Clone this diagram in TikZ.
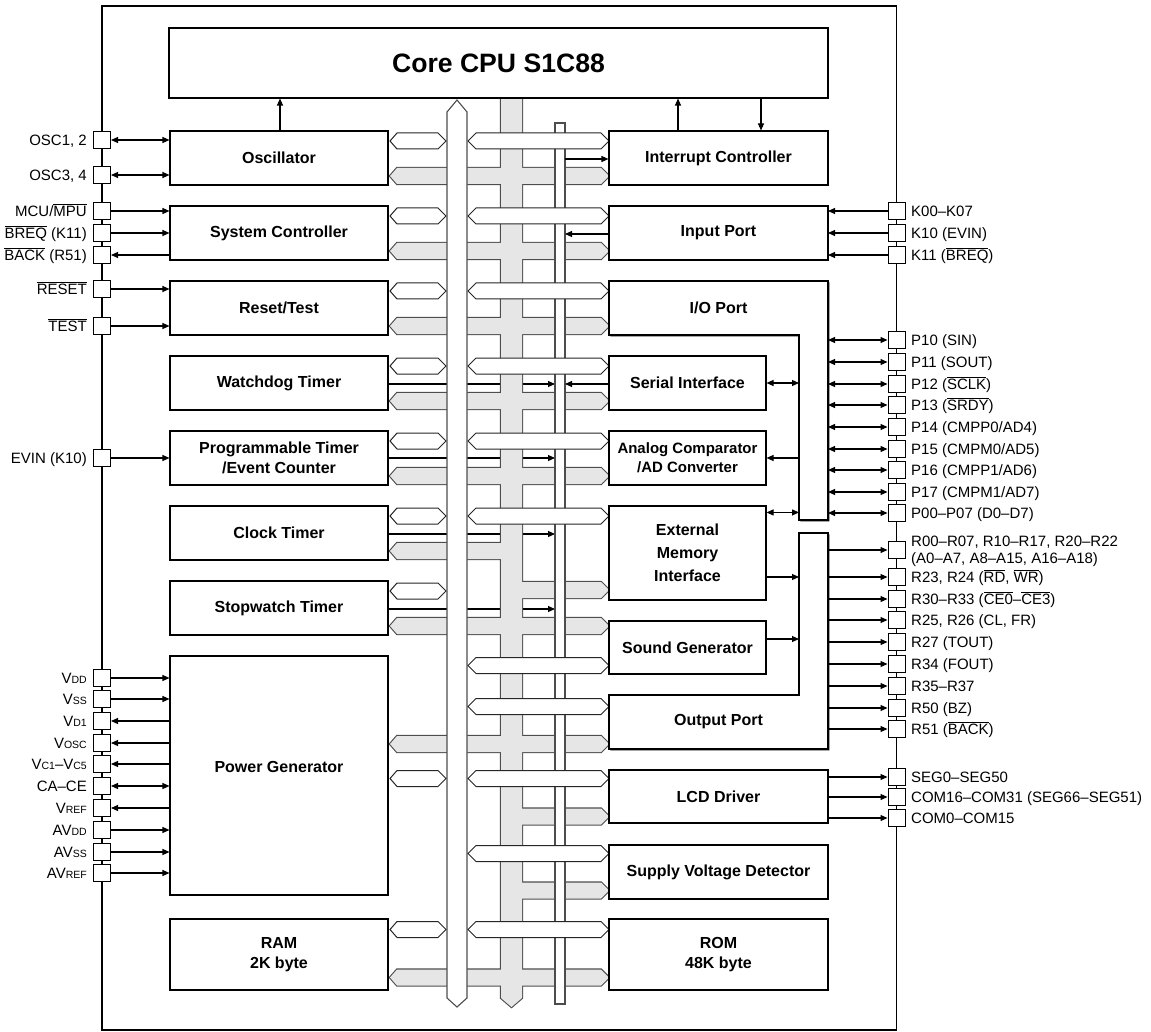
\documentclass[tikz,border=0pt]{standalone}
\usepackage{fontspec}
\setmainfont{Liberation Sans}
\usetikzlibrary{arrows.meta,shadows}
\pgfdeclarelayer{ctl}
\pgfdeclarelayer{gry}
\pgfdeclarelayer{bus}
\pgfsetlayers{ctl,gry,bus,main}
\definecolor{busgray}{HTML}{E6E6E6}
\definecolor{busline}{HTML}{4D4D4D}
\newcommand\ovl[1]{$\overline{\hbox{#1}}$}
\newcommand\sm[1]{{\fontsize{10.5pt}{12pt}\selectfont #1}}
\newcommand\GrayShapes[1]{%
 \path[#1] (501,98) -- (522,98) -- (522,998) -- (511.5,1007) -- (501,998) -- cycle;
 \foreach \yy in {176,251,326,401,476,626,744,977.5}{\path[#1] (390,\yy) -- (397,\yy-8) -- (601,\yy-8) -- (609,\yy) -- (601,\yy+8) -- (397,\yy+8) -- cycle;}
 \foreach \yy in {551}{\path[#1] (390,\yy) -- (397,\yy-8) -- (511,\yy-8) -- (511,\yy+8) -- (397,\yy+8) -- cycle;}
 \foreach \yy in {590,816.5,890.5}{\path[#1] (511,\yy-8) -- (601,\yy-8) -- (609,\yy) -- (601,\yy+8) -- (511,\yy+8) -- cycle;}
}
\newcommand\WHexL[1]{\draw[hexw] (390,#1) -- (397,#1-8) -- (438,#1-8) -- (446,#1) -- (438,#1+8) -- (397,#1+8) -- cycle;}
\newcommand\WHexR[1]{\draw[hexw] (468,#1) -- (476,#1-8) -- (601,#1-8) -- (609,#1) -- (601,#1+8) -- (476,#1+8) -- cycle;}
\begin{document}
\begin{tikzpicture}[x=1pt,y=-1pt,
  >={Triangle[length=7pt,width=6pt]},
  mod/.style={draw=black, line width=1.1pt, fill=white,
     drop shadow={shadow xshift=1.4pt, shadow yshift=-1.4pt, opacity=1, fill=black}},
  modbox/.style={mod, rectangle, inner sep=0pt, align=center,
     font=\fontsize{16pt}{20pt}\selectfont\bfseries},
  lmod/.style={modbox, minimum width=218pt, minimum height=54pt},
  rmod/.style={modbox, minimum width=219pt, minimum height=54pt},
  nmod/.style={modbox, minimum width=157pt, minimum height=54pt},
  modtxt/.style={inner sep=0pt, align=center, font=\fontsize{16pt}{20pt}\selectfont\bfseries},
  pinbox/.style={draw=black, fill=white, line width=1pt, minimum width=17pt, minimum height=17pt, inner sep=0pt},
  lpl/.style={anchor=base east, yshift=-5.3pt, inner sep=0pt, font=\fontsize{15pt}{18pt}\selectfont},
  rpl/.style={anchor=base west, yshift=-5.3pt, inner sep=0pt, font=\fontsize{15pt}{18pt}\selectfont},
  con/.style={line width=1.1pt},
  fwd/.style={con,->}, bwd/.style={con,<-}, bi/.style={con,<->},
  busw/.style={draw=busline, fill=white, line width=1.1pt, line join=miter},
  hexw/.style={draw=black!85, fill=white, line width=1pt, line join=miter}]
\useasboundingbox (0,0) rectangle (1151,1032);
% chip outline
\draw[line width=1.6pt] (102,6) rectangle (896.5,1030);
% bus edge coordinates
\coordinate (tbL) at (555,0);
\coordinate (tbR) at (565,0);
\coordinate (ioIn) at (799,0);
\coordinate (rE) at (828,0);
% CPU
\node[modbox, minimum width=659pt, minimum height=70pt, font=\fontsize{26.6pt}{32pt}\selectfont\bfseries] (cpu) at (498.5,63) {Core CPU S1C88};
% left modules
\node[lmod] (osc) at (279,158) {Oscillator};
\node[lmod] (sysc) at (279,233) {System Controller};
\node[lmod] (rst) at (279,308) {Reset/Test};
\node[lmod] (wdt) at (279,383) {Watchdog Timer};
\node[lmod] (ptm) at (279,458) {Programmable Timer\\/Event Counter};
\node[lmod] (clk) at (279,533) {Clock Timer};
\node[lmod] (stw) at (279,608) {Stopwatch Timer};
\node[lmod, minimum height=239pt] (pwr) at (279,775.5) {};
\node[modtxt] (pwrl) at (279,767) {Power Generator};
\node[lmod, minimum height=71pt] (ram) at (279,954.5) {RAM\\2K byte};
% right modules
\node[rmod] (intc) at (718.5,158) {Interrupt Controller};
\node[rmod] (inp) at (718.5,233) {Input Port};
\path[mod] (609,281) -- (828,281) -- (828,520) -- (799,520) -- (799,335) -- (609,335) -- cycle;
\node[modtxt] (iop) at (718.5,308) {I/O Port};
\node[nmod] (ser) at (687.5,383) {Serial Interface};
\node[nmod, font=\fontsize{15pt}{19pt}\selectfont\bfseries] (adc) at (687.5,458) {Analog Comparator\\/AD Converter};
\node[nmod, minimum height=94pt, font=\fontsize{16pt}{23pt}\selectfont\bfseries] (ext) at (687.5,553) {External\\Memory\\Interface};
\node[nmod, minimum height=53pt] (snd) at (687.5,647.5) {Sound Generator};
\path[mod] (799,533) -- (828,533) -- (828,749) -- (609,749) -- (609,695) -- (799,695) -- cycle;
\node[modtxt] (outp) at (718.5,722) {Output Port};
\node[rmod, minimum height=53pt] (lcd) at (718.5,796.5) {LCD Driver};
\node[rmod] (svd) at (718.5,872) {Supply Voltage Detector};
\node[rmod, minimum height=71pt] (rom) at (718.5,954.5) {ROM\\48K byte};
% control lines into the thin bus (behind buses)
\begin{pgfonlayer}{ctl}
\draw[fwd] ([yshift=-1pt]wdt.east) -- ([yshift=-1pt]wdt.east -| tbL);
\draw[fwd] (ptm.east) -- (ptm.east -| tbL);
\draw[fwd] ([yshift=-1pt]clk.east) -- ([yshift=-1pt]clk.east -| tbL);
\draw[fwd] ([yshift=-1pt]stw.east) -- ([yshift=-1pt]stw.east -| tbL);
\end{pgfonlayer}
% gray data bus
\begin{pgfonlayer}{gry}
\GrayShapes{draw=busline, line width=2.2pt, line join=miter}
\GrayShapes{fill=busgray}
\end{pgfonlayer}
% thin bus, white bus, white hexes
\begin{pgfonlayer}{bus}
\draw[busw] (555,123) rectangle (565,1004);
\draw[busw] (447,112) -- (457,100) -- (467,112) -- (467,998) -- (457,1007) -- (447,998) -- cycle;
\foreach \yy in {141,216,291,366,441,516,591,778.5,929.5}{\WHexL{\yy}}
\foreach \yy in {141,216,291,366,441,516,665.5,706.5,778.5,853.5,929.5}{\WHexR{\yy}}
\end{pgfonlayer}
% right control lines
\draw[fwd] ([yshift=-1pt]intc.west -| tbR) -- ([yshift=-1pt]intc.west);
\draw[fwd] ([yshift=-1pt]inp.west) -- ([yshift=-1pt]inp.west -| tbR);
\draw[fwd] ([yshift=-1pt]ser.west) -- ([yshift=-1pt]ser.west -| tbR);
% CPU arrows
\draw[fwd] ([xshift=1pt]osc.north) -- ([xshift=1pt]osc.north |- cpu.south);
\draw[fwd] ([xshift=-40.5pt]intc.north) -- ([xshift=-40.5pt]intc.north |- cpu.south);
\draw[fwd] ([xshift=42.5pt]intc.north |- cpu.south) -- ([xshift=42.5pt]intc.north);
% internal arrows
\draw[bi] (ser.east) -- (ser.east -| ioIn);
\draw[bwd] (adc.east) -- (adc.east -| ioIn);
\draw[bi] ([yshift=-7pt]ext.north east) -- ([yshift=-7pt]ext.north east -| ioIn);
\draw[fwd] ([yshift=-24pt]ext.east) -- ([yshift=-24pt]ext.east -| ioIn);
\draw[fwd] ([yshift=8.5pt]snd.east) -- ([yshift=8.5pt]snd.east -| ioIn);
% left pins
\foreach \yy/\nm/\txt/\dir/\tgt in {
  140/oa/{OSC1, 2}/bi/osc, 175/ob/{OSC3, 4}/bi/osc,
  211/mcu/{MCU/\ovl{MPU}}/fwd/sysc, 233/breq/{\ovl{BREQ} (K11)}/fwd/sysc, 255/back/{\ovl{BACK} (R51)}/bwd/sysc,
  289/reset/{\ovl{RESET}}/fwd/rst, 326/test/{\ovl{TEST}}/fwd/rst,
  458/evin/{EVIN (K10)}/fwd/ptm,
  678/vdd/{V\sm{DD}}/fwd/pwr, 699/vss/{V\sm{SS}}/fwd/pwr, 721/vdi/{V\sm{D1}}/bwd/pwr,
  743/vosc/{V\sm{OSC}}/bwd/pwr, 764/vc/{V\sm{C1}–V\sm{C5}}/bwd/pwr, 786/ca/{CA–CE}/bi/pwr,
  808/vref/{V\sm{REF}}/bwd/pwr, 830/avdd/{AV\sm{DD}}/fwd/pwr, 852/avss/{AV\sm{SS}}/fwd/pwr,
  873/avref/{AV\sm{REF}}/fwd/pwr}{
  \node[pinbox] (p\nm) at (102,\yy) {};
  \node[lpl] (l\nm) at (87,\yy) {\txt};
  \draw[\dir] (p\nm.east) -- (p\nm.east -| \tgt.west);
}
% right pins
\foreach \yy/\nm/\txt/\dir in {
  211/k0/{K00–K07}/bwd, 233/k10/{K10 (EVIN)}/bwd, 255/k11/{K11 (\ovl{BREQ})}/bwd,
  340/p10/{P10 (SIN)}/bi, 362/p11/{P11 (SOUT)}/bi, 384/p12/{P12 (\ovl{SCLK})}/bi,
  405/p13/{P13 (\ovl{SRDY})}/bi, 427/p14/{P14 (CMPP0/AD4)}/bi, 449/p15/{P15 (CMPM0/AD5)}/bi,
  470/p16/{P16 (CMPP1/AD6)}/bi, 492/p17/{P17 (CMPM1/AD7)}/bi, 513/p0/{P00–P07 (D0–D7)}/bi,
  577/r23/{R23, R24 (\ovl{RD}, \ovl{WR})}/fwd, 599/r30/{R30–R33 (\ovl{CE0}–\ovl{CE3})}/fwd,
  620/r25/{R25, R26 (CL, FR)}/fwd, 642/r27/{R27 (TOUT)}/fwd, 664/r34/{R34 (FOUT)}/fwd,
  686/r35/{R35–R37}/fwd, 708/r50/{R50 (BZ)}/fwd, 729/r51/{R51 (\ovl{BACK})}/fwd,
  777/seg/{SEG0–SEG50}/fwd, 797/com16/{COM16–COM31 (SEG66–SEG51)}/fwd, 818/com0/{COM0–COM15}/fwd}{
  \node[pinbox] (p\nm) at (896.5,\yy) {};
  \node[rpl] (l\nm) at (911,\yy) {\txt};
  \draw[\dir] (p\nm.west -| rE) -- (p\nm.west);
}
\node[pinbox] (pr0) at (896.5,550) {};
\node[rpl] (lr0a) at (911,541) {R00–R07, R10–R17, R20–R22};
\node[rpl] (lr0b) at (911,558) {(A0–A7, A8–A15, A16–A18)};
\draw[fwd] (pr0.west -| rE) -- (pr0.west);
\end{tikzpicture}
\end{document}
